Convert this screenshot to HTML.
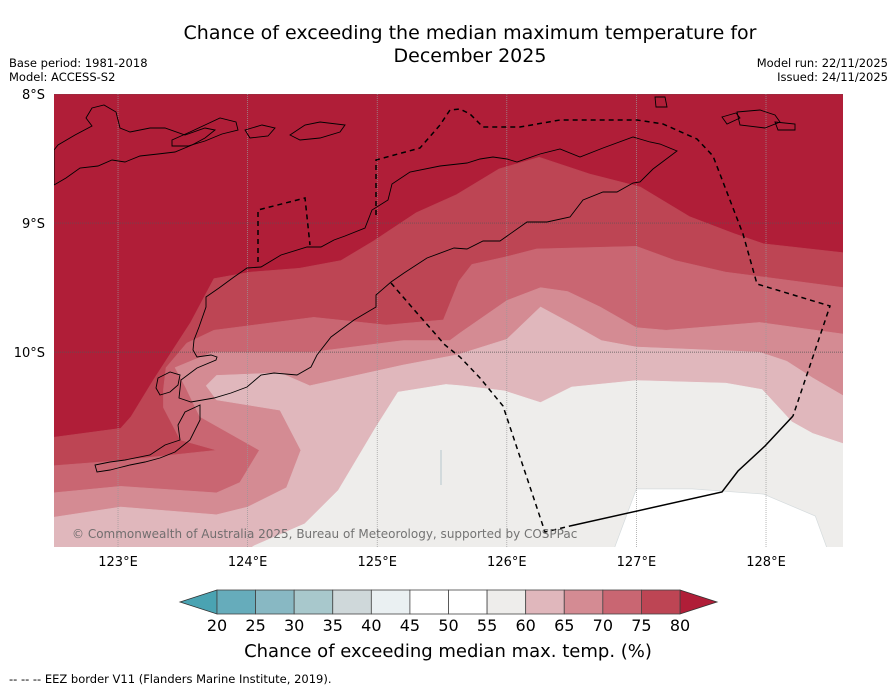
<!DOCTYPE html>
<html><head><meta charset="utf-8"><style>
html,body{margin:0;padding:0;background:#fff;}
svg{display:block;font-family:"DejaVu Sans","Liberation Sans",sans-serif;}
</style></head><body>
<svg id="chart" width="896" height="690" viewBox="0 0 896 690">
<text x="470" y="39" font-size="19" text-anchor="middle">Chance of exceeding the median maximum temperature for</text>
<text x="470" y="62" font-size="19" text-anchor="middle">December 2025</text>
<text x="9" y="67" font-size="11.5">Base period: 1981-2018</text>
<text x="9" y="81" font-size="11.5">Model: ACCESS-S2</text>
<text x="888" y="67" font-size="11.5" text-anchor="end">Model run: 22/11/2025</text>
<text x="888" y="81" font-size="11.5" text-anchor="end">Issued: 24/11/2025</text>
<defs><clipPath id="mapclip"><rect x="54" y="94" width="789" height="453"/></clipPath></defs>
<g id="map" clip-path="url(#mapclip)"></g>
<g id="axes"></g>
<g id="cbar"></g>
<text x="448" y="657" font-size="18" text-anchor="middle">Chance of exceeding median max. temp. (%)</text>
<text x="9" y="683" font-size="11.5">--  --  -- EEZ border V11 (Flanders Marine Institute, 2019).</text>
</svg>
<script>
const NS="http://www.w3.org/2000/svg";
// colour scale
const levels=[20,25,30,35,40,45,50,55,60,65,70,75,80];
const binColors=["#66acbb","#88b8c3","#a8c8cc","#cfd8da","#eaf0f2","#ffffff","#ffffff","#eeedeb","#e0b7bc","#d48b93","#c96672","#bd4554"];
const underColor="#4aa3b2";
const overColor="#b01e38";
// map extent
const lonMin=122.506, lonMax=128.594, latTop=-8, latBottom=-11.51;
const lonTicks=[123,124,125,126,127,128];
const latTicks=[-8,-9,-10];
// contour boundaries (lon, lat) — lower edge of each level band
const c80=[[122.5,-10.66],[123.02,-10.59],[123.1,-10.5],[123.27,-10.22],[123.56,-9.77],[123.74,-9.43],[124.02,-9.38],[124.4,-9.35],[124.72,-9.29],[124.97,-9.14],[125.3,-8.92],[125.61,-8.78],[125.94,-8.58],[126.25,-8.49],[126.64,-8.62],[127.03,-8.72],[127.41,-8.95],[127.75,-9.08],[127.98,-9.16],[128.6,-9.23]];
const c75=[[122.5,-10.88],[123.02,-10.84],[123.76,-10.76],[123.48,-10.68],[123.35,-10.43],[123.35,-10.29],[123.37,-10.12],[123.53,-9.93],[123.74,-9.83],[124.51,-9.73],[125.07,-9.79],[125.51,-9.75],[125.63,-9.45],[125.73,-9.32],[126.0,-9.26],[126.23,-9.2],[127.0,-9.18],[127.3,-9.29],[127.69,-9.38],[128.0,-9.42],[128.6,-9.5]];
const c70=[[122.5,-11.09],[123.02,-11.04],[123.76,-11.09],[123.94,-11.01],[124.09,-10.76],[123.63,-10.5],[123.52,-10.27],[123.44,-10.12],[123.73,-10.0],[124.5,-10.0],[125.2,-9.91],[125.56,-9.91],[125.64,-9.85],[126.0,-9.6],[126.26,-9.5],[126.47,-9.53],[126.72,-9.65],[127.0,-9.81],[127.23,-9.83],[127.95,-9.77],[128.6,-9.86]];
const c65=[[122.5,-11.28],[123.02,-11.2],[123.76,-11.26],[124.0,-11.2],[124.3,-11.05],[124.41,-10.76],[124.25,-10.45],[123.76,-10.37],[123.68,-10.26],[123.76,-10.18],[124.25,-10.16],[124.48,-10.26],[125.2,-10.1],[125.62,-10.02],[126.0,-9.9],[126.26,-9.65],[126.5,-9.78],[126.73,-9.91],[127.0,-9.96],[127.95,-10.0],[128.16,-10.07],[128.36,-10.2],[128.6,-10.34]];
const c60=[[123.9,-11.6],[124.05,-11.5],[124.44,-11.33],[124.7,-11.07],[124.99,-10.58],[125.16,-10.31],[125.53,-10.25],[125.65,-10.26],[125.98,-10.3],[126.26,-10.39],[126.5,-10.27],[127.0,-10.22],[127.69,-10.24],[127.97,-10.29],[128.2,-10.54],[128.36,-10.63],[128.6,-10.71]];
const c50=[[126.8,-11.6],[127.0,-11.06],[127.43,-11.06],[127.98,-11.1],[128.38,-11.27],[128.5,-11.6]];
function X(lon){return 54+(lon-lonMin)/(lonMax-lonMin)*789;}
function Y(lat){return 94+(latTop-lat)/(latTop-latBottom)*453;}
const map=document.getElementById('map');
function mk(tag,attrs,parent){const e=document.createElementNS(NS,tag);for(const k in attrs)e.setAttribute(k,attrs[k]);parent.appendChild(e);return e;}
let bg=mk('rect',{x:54,y:94,width:789,height:453,fill:overColor},map);


function band(line,color,name,closeLeft){
  let pts=line.map(p=>X(p[0]).toFixed(1)+','+Y(p[1]).toFixed(1));
  pts.push(X(lonMax+0.2)+','+Y(line[line.length-1][1]));
  pts.push(X(lonMax+0.2)+','+Y(-11.7));
  pts.push(X(closeLeft)+','+Y(-11.7));
  const p=mk('polygon',{points:pts.join(' '),fill:color,stroke:color,'stroke-width':0.5},map);
  
  
}
band(c80,binColors[11],'band-75-80',lonMin-0.2);
band(c75,binColors[10],'band-70-75',lonMin-0.2);
band(c70,binColors[9],'band-65-70',lonMin-0.2);
band(c65,binColors[8],'band-60-65',lonMin-0.2);
band(c60,binColors[7],'band-55-60',c60[0][0]);
{let pts=c50.map(p=>X(p[0]).toFixed(1)+','+Y(p[1]).toFixed(1)).join(' ');
 const p=mk('polygon',{points:pts,fill:'#ffffff',stroke:'#d5dbdd','stroke-width':0.7},map);
 
 }
// gridlines
lonTicks.forEach(l=>{const g=mk('line',{x1:X(l),x2:X(l),y1:94,y2:547,stroke:'#999','stroke-width':0.7,'stroke-dasharray':'1,1'},map);
 
 });
latTicks.forEach(l=>{const g=mk('line',{x1:54,x2:843,y1:Y(l),y2:Y(l),stroke:'#555','stroke-width':0.7,'stroke-dasharray':'1,1'},map);
 
 });
// coastlines (pixel outlines of land)
const coasts=[
 "334,240 321,247 307,247 281,255 261,267 247,268 234,277 219,288 206,297 206,307 199,327 194,340 193,350 197,357 211,355 217,357 216,360 197,368 181,380 179,398 191,402 214,398 231,393 247,387 261,375 274,373 297,375 311,367 317,355 331,337 354,320 376,307 376,295 391,282 404,273 427,258 454,248 467,249 483,241 500,241 527,222 547,222 570,217 583,200 603,192 617,192 633,183 640,182 653,169 677,151 660,144 650,142 633,137 603,148 580,157 560,149 540,154 517,162 507,159 493,157 480,159 467,163 440,166 410,172 392,184 388,200 372,210 365,228 345,236 334,240",
 "54,185 66,178 80,168 98,166 112,160 125,162 140,156 158,154 175,152 192,145 205,138 215,130 205,128 185,135 165,128 150,128 130,132 120,128 116,112 104,105 92,108 86,118 92,126 75,135 58,145 54,150",
 "172,140 190,132 205,125 220,118 236,122 238,130 222,134 205,141 188,146 172,146",
 "290,135 305,125 320,122 345,125 340,132 320,138 300,140",
 "245,130 262,125 275,128 268,136 250,138",
 "200,405 185,412 178,425 180,440 165,445 150,455 125,460 110,462 95,465 97,472 110,470 118,468 130,465 145,462 160,458 175,452 190,440 200,420",
 "170,372 158,378 156,388 160,395 170,392 178,385 180,375",
 "655,97 665,97 667,107 656,107",
 "737,112 760,110 775,115 780,122 765,128 740,125",
 "775,122 795,124 795,130 778,130",
 "722,117 736,113 740,118 727,124"
];
coasts.forEach((c,i)=>{const p=mk('polygon',{points:c,fill:'none',stroke:'#000','stroke-width':0.9},map);
 
 });
// small island / artifact
{const l=mk('line',{x1:441,x2:441,y1:450,y2:485,stroke:'#c9d3d6','stroke-width':1.5},map);
 
 }
// EEZ borders
const eezDashed=["258,262 258,210 305,198 310,245","376,215 376,160 420,148 440,125 450,110 460,109 470,114 483,127 520,127 560,120 637,120 663,124 697,139 713,156 743,234 757,284 830,306 793,416","391,283 410,305 445,345 460,357 480,378 503,406 545,532 570,526"];
eezDashed.forEach(d=>{const p=mk('polyline',{points:d,fill:'none',stroke:'#000','stroke-width':1.5,'stroke-dasharray':'5,4'},map);
 
 });
{const p=mk('polyline',{points:"570,526 722,492 738,471 765,446 793,416",fill:'none',stroke:'#000','stroke-width':1.5},map);
 
 }
{const t=mk('text',{x:72,y:538,'font-size':12,fill:'#666','fill-opacity':0.9},map);t.textContent="© Commonwealth of Australia 2025, Bureau of Meteorology, supported by COSPPac";
 
 }
// axis labels
const axes=document.getElementById('axes');
lonTicks.forEach(l=>{const t=mk('text',{x:X(l),y:566,'font-size':13,'text-anchor':'middle'},axes);t.textContent=l+"°E";
 
 });
latTicks.forEach(l=>{const t=mk('text',{x:45,y:Y(l)+5,'font-size':13,'text-anchor':'end'},axes);t.textContent=(-l)+"°S";
 
 });
// colorbar
const cb=document.getElementById('cbar');
const cbX0=217,cbX1=680,cbY=590,cbH=24,segW=(cbX1-cbX0)/binColors.length;
{const p=mk('polygon',{points:`${cbX0},${cbY} 180,${cbY+cbH/2} ${cbX0},${cbY+cbH}`,fill:underColor,stroke:'#333','stroke-width':0.8},cb);
 
 }
{const p=mk('polygon',{points:`${cbX1},${cbY} 717,${cbY+cbH/2} ${cbX1},${cbY+cbH}`,fill:overColor,stroke:'#333','stroke-width':0.8},cb);
 
 }
binColors.forEach((c,i)=>{const r=mk('rect',{x:cbX0+i*segW,y:cbY,width:segW,height:cbH,fill:c,stroke:'#444','stroke-width':0.8},cb);
 
 });
levels.forEach((v,i)=>{const t=mk('text',{x:cbX0+i*segW,y:631,'font-size':16,'text-anchor':'middle'},cb);t.textContent=v;
 
 });
</script>
</body></html>
